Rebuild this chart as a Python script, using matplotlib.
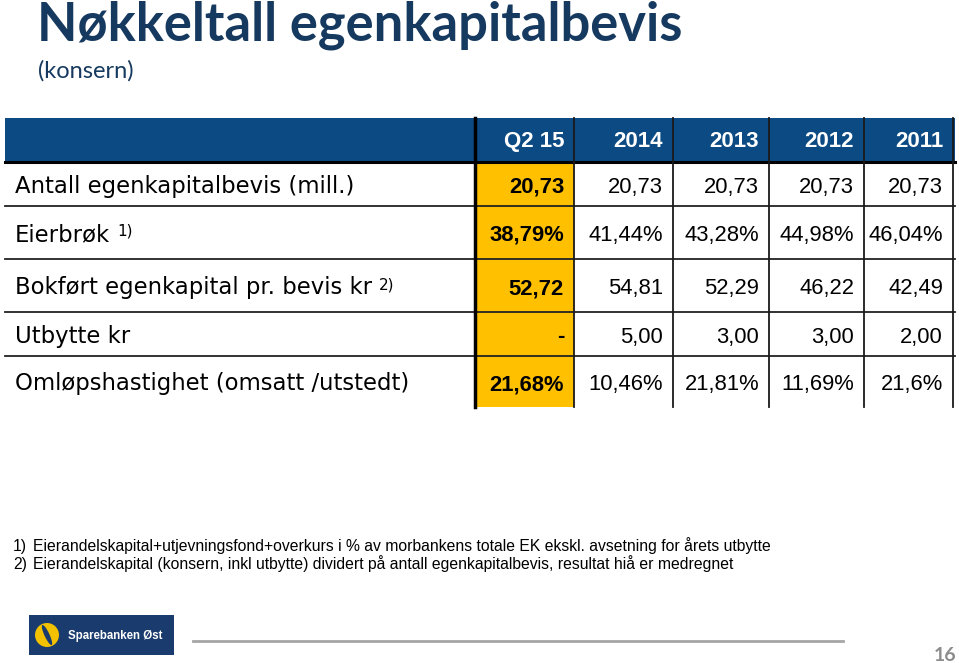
import matplotlib
matplotlib.use("Agg")
import matplotlib.pyplot as plt
from matplotlib.patches import Rectangle, Circle, Ellipse

# ---- data ----
title = "Nøkkeltall egenkapitalbevis"
subtitle = "(konsern)"
columns = ["Q2 15", "2014", "2013", "2012", "2011"]
row_labels = ["Antall egenkapitalbevis (mill.)", "Eierbrøk", "Bokført egenkapital pr. bevis kr",
              "Utbytte kr", "Omløpshastighet (omsatt /utstedt)"]
row_notes = ["", "1)", "2)", "", ""]
antall = ["20,73", "20,73", "20,73", "20,73", "20,73"]
eierbrok = ["38,79%", "41,44%", "43,28%", "44,98%", "46,04%"]
bokfort = ["52,72", "54,81", "52,29", "46,22", "42,49"]
utbytte = ["-", "5,00", "3,00", "3,00", "2,00"]
omlop = ["21,68%", "10,46%", "21,81%", "11,69%", "21,6%"]
footnotes = ["Eierandelskapital+utjevningsfond+overkurs i % av morbankens totale EK ekskl. avsetning for årets utbytte",
             "Eierandelskapital (konsern, inkl utbytte) dividert på antall egenkapitalbevis, resultat hiå er medregnet"]
page = "16"
rows = [antall, eierbrok, bokfort, utbytte, omlop]

# ---- styles ----
NAVY = "#163a5f"
HEAD = "#0b4a82"
GOLD = "#ffc000"
NUMFONT = "Liberation Sans"
LABFONT = "DejaVu Sans"

fig = plt.figure(figsize=(9.59, 6.63), dpi=100)
ax = fig.add_axes([0, 0, 1, 1])
ax.set_xlim(0, 959)
ax.set_ylim(663, 0)
ax.axis("off")

# title
ax.text(37, 41, title, fontsize=37.8, fontweight="bold", color=NAVY, family="Lato", va="baseline")
ax.text(38, 78, subtitle, fontsize=17, color=NAVY, family="Lato", va="baseline")

# table geometry
x_left, x_right = 5, 955
col_edges = [475, 574, 673, 769, 864, 953]
row_edges = [162, 206, 259, 312, 356, 407]
head_top = 118

ax.add_patch(Rectangle((x_left, head_top), x_right - x_left, row_edges[0] - head_top,
                       facecolor=HEAD, edgecolor="none", zorder=1))
ax.add_patch(Rectangle((col_edges[0], row_edges[0]), col_edges[1] - col_edges[0],
                       row_edges[-1] - row_edges[0], facecolor=GOLD, edgecolor="none", zorder=1))

# horizontal lines
ax.plot([x_left, x_right], [row_edges[0], row_edges[0]], color="black", lw=2.2, zorder=3)
for y in row_edges[1:-1]:
    ax.plot([x_left, x_right], [y, y], color="#222222", lw=1.3, zorder=3)
# vertical lines
ax.plot([col_edges[0], col_edges[0]], [head_top, row_edges[-1]], color="black", lw=2.5, zorder=3)
for x in col_edges[1:]:
    ax.plot([x, x], [head_top, row_edges[-1]], color="#1a1a1a", lw=1.3, zorder=3)

# header texts
for j, c in enumerate(columns):
    ax.text(col_edges[j + 1] - 10, 147, c, fontsize=16, fontweight="bold", color="white",
            family=NUMFONT, ha="right", va="baseline", zorder=4)

fig.canvas.draw()
renderer = fig.canvas.get_renderer()
for i, (lab, note, vals) in enumerate(zip(row_labels, row_notes, rows)):
    yc = (row_edges[i] + row_edges[i + 1]) / 2
    t = ax.text(15, yc + 8.5, lab, fontsize=16.4, color="black", family=LABFONT,
                va="baseline", zorder=4)
    if note:
        bb = t.get_window_extent(renderer)
        x_end = bb.x1 + 7
        ax.text(x_end, yc + 3.5, note, fontsize=11, color="black", family=LABFONT,
                va="baseline", zorder=4)
    for j, v in enumerate(vals):
        ax.text(col_edges[j + 1] - 10, yc + 8.5, v, fontsize=15.8, color="black", family=NUMFONT,
                fontweight="bold" if j == 0 else "normal", ha="right", va="baseline", zorder=4)

# footnotes
for k, fn in enumerate(footnotes):
    y = 551 + k * 18
    ax.text(13, y, f"{k + 1})", fontsize=11.3, family=NUMFONT, color="black", va="baseline")
    ax.text(33, y, fn, fontsize=11.3, family=NUMFONT, color="black", va="baseline")

# logo
ax.add_patch(Rectangle((29, 615), 145, 40, facecolor="#1a3b6e", edgecolor="none"))
ax.add_patch(Circle((47, 635), 12, facecolor="#f2c200", edgecolor="none"))
ax.add_patch(Ellipse((47, 635), 5, 22, angle=-25, facecolor="#1a3b6e", edgecolor="none"))
ax.text(68, 639, "Sparebanken Øst", fontsize=8.3, fontweight="bold", color="white",
        family=NUMFONT, va="baseline")

# footer line and page number
ax.plot([193, 843], [641, 641], color="#a6a6a6", lw=2)
ax.text(956, 661, page, fontsize=14, fontweight="bold", color="#8c8c8c", family="Lato",
        ha="right", va="baseline")

fig.savefig("out.png", dpi=100)
